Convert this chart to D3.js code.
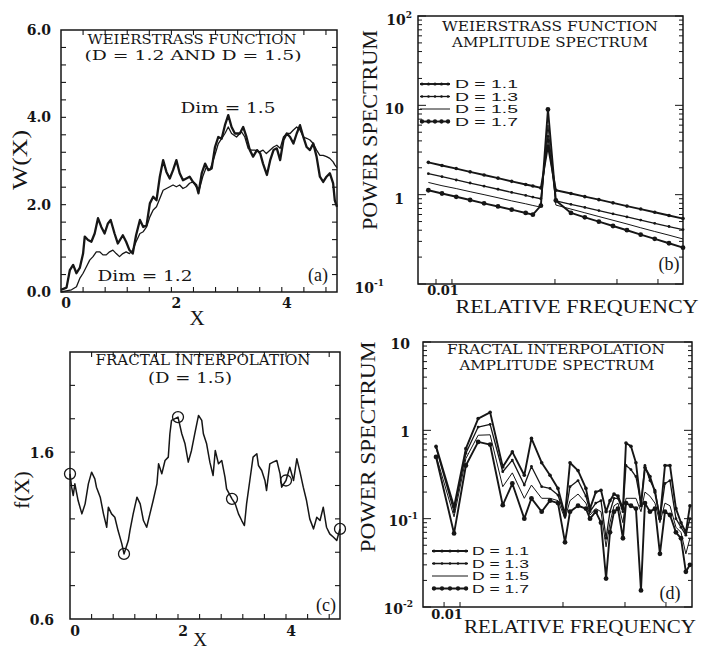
<!DOCTYPE html>
<html>
<head>
<meta charset="utf-8">
<script src="https://cdn.jsdelivr.net/npm/d3@7"></script>
<style>
  body { margin: 0; background: #fff; }
  text { fill: #161616; }
</style>
</head>
<body>
<div id="chart"></div>
<script>
// ---- (a) Weierstrass function, two dimensions
const wX15 = [0, 0.10, 0.16, 0.22, 0.28, 0.34, 0.40, 0.43, 0.49, 0.55, 0.61, 0.67, 0.73, 0.79, 0.85, 0.90, 0.97, 1.03, 1.12, 1.18,
  1.24, 1.30, 1.36, 1.43, 1.49, 1.55, 1.61, 1.67, 1.73, 1.79, 1.85, 1.91, 1.97, 2.03, 2.09, 2.15, 2.21, 2.27, 2.33, 2.39,
  2.45, 2.49, 2.55, 2.61, 2.67, 2.73, 2.79, 2.85, 2.91, 2.97, 3.03, 3.09, 3.15, 3.24, 3.30, 3.36, 3.42, 3.48, 3.55, 3.61,
  3.66, 3.73, 3.79, 3.85, 3.91, 3.97, 4.03, 4.09, 4.15, 4.21, 4.27, 4.33, 4.39, 4.45, 4.51, 4.57, 4.63, 4.69, 4.75, 4.81,
  4.87, 4.93, 4.96, 5.0];
const wY15 = [0.05, 0.10, 0.50, 0.62, 0.43, 0.55, 0.88, 1.27, 1.19, 1.15, 1.34, 1.69, 1.49, 1.34, 1.57, 1.65, 1.34, 1.11, 1.30, 1.15,
  0.96, 0.88, 1.30, 1.65, 1.49, 1.53, 2.03, 2.18, 2.10, 2.64, 3.02, 2.75, 2.60, 2.79, 3.02, 2.72, 2.56, 2.60, 2.64, 2.52,
  2.45, 2.26, 2.72, 2.94, 2.79, 2.83, 3.32, 3.55, 3.51, 3.82, 4.05, 3.78, 3.63, 3.63, 3.78, 3.55, 3.25, 3.10, 3.25, 3.17,
  2.94, 2.68, 3.02, 3.25, 3.29, 3.02, 3.48, 3.63, 3.55, 3.40, 3.63, 3.82, 3.55, 3.32, 3.25, 3.40, 3.10, 2.64, 2.52, 2.64,
  2.72, 2.49, 2.10, 1.95];
const wX12 = [0, 0.19, 0.28, 0.34, 0.40, 0.46, 0.52, 0.58, 0.64, 0.70, 0.76, 0.82, 0.88, 0.94, 1.00, 1.06, 1.12, 1.18, 1.24, 1.30,
  1.36, 1.43, 1.49, 1.55, 1.61, 1.67, 1.73, 1.79, 1.85, 1.91, 1.97, 2.03, 2.09, 2.15, 2.21, 2.27, 2.33, 2.39, 2.45, 2.51,
  2.57, 2.63, 2.70, 2.78, 2.85, 2.97, 3.03, 3.09, 3.18, 3.27, 3.33, 3.39, 3.45, 3.51, 3.60, 3.66, 3.72, 3.79, 3.85, 3.91,
  3.97, 4.03, 4.09, 4.15, 4.21, 4.27, 4.33, 4.39, 4.45, 4.51, 4.57, 4.63, 4.69, 4.75, 4.81, 4.87, 4.93, 4.96, 5.0];
const wY12 = [0.0, 0.05, 0.12, 0.31, 0.43, 0.58, 0.73, 0.81, 0.92, 0.92, 0.85, 0.85, 0.92, 0.96, 0.88, 0.81, 0.88, 0.92, 0.88, 0.96,
  1.15, 1.34, 1.38, 1.49, 1.72, 1.88, 1.95, 2.14, 2.33, 2.37, 2.41, 2.45, 2.41, 2.45, 2.37, 2.41, 2.49, 2.52, 2.41, 2.37,
  2.65, 2.85, 2.80, 3.10, 3.40, 3.63, 3.78, 3.63, 3.55, 3.67, 3.55, 3.29, 3.25, 3.25, 3.21, 3.25, 3.17, 3.25, 3.32, 3.36,
  3.29, 3.55, 3.63, 3.63, 3.71, 3.78, 3.71, 3.55, 3.52, 3.48, 3.40, 3.25, 3.13, 3.13, 3.10, 3.06, 2.98, 2.91, 2.85];

// ---- (b) Weierstrass amplitude spectrum
const specFreq = [0.0059, 0.008, 0.011, 0.015, 0.0205, 0.028, 0.038, 0.052, 0.061, 0.073, 0.0855,
  0.102, 0.143, 0.195, 0.267, 0.366, 0.50, 0.68, 0.93, 1.28, 1.75];
const specD11 = [2.30, 2.12, 1.96, 1.80, 1.66, 1.53, 1.41, 1.30, 1.25, 1.19, 3.5, 1.12, 1.03, 0.95, 0.88, 0.81, 0.745, 0.69, 0.635, 0.585, 0.54];
const specD13 = [1.72, 1.59, 1.46, 1.35, 1.245, 1.15, 1.06, 0.98, 0.94, 0.90, 4.5, 0.85, 0.78, 0.72, 0.664, 0.61, 0.564, 0.52, 0.478, 0.44, 0.407];
const specD15 = [1.37, 1.26, 1.17, 1.08, 1.0, 0.923, 0.852, 0.79, 0.757, 0.725, 6.0, 0.765, 0.69, 0.627, 0.569, 0.517, 0.47, 0.426, 0.387, 0.352, 0.319];
const specD17 = [1.12, 1.03, 0.947, 0.872, 0.80, 0.738, 0.68, 0.624, 0.597, 0.753, 9.0, 0.86, 0.624, 0.557, 0.499, 0.446, 0.40, 0.357, 0.32, 0.286, 0.255];

// ---- (c) fractal interpolation
const fiX = [0.00, 0.03, 0.06, 0.09, 0.15, 0.22, 0.28, 0.34, 0.40, 0.46, 0.49, 0.56, 0.62, 0.68, 0.71, 0.77, 0.83, 0.89, 0.96, 1.00,
  1.08, 1.11, 1.17, 1.24, 1.30, 1.36, 1.42, 1.48, 1.54, 1.61, 1.64, 1.70, 1.76, 1.82, 1.85, 1.88, 2.00, 2.07, 2.13, 2.19,
  2.25, 2.31, 2.38, 2.44, 2.47, 2.53, 2.59, 2.65, 2.69, 2.75, 2.81, 2.87, 2.90, 3.00, 3.06, 3.12, 3.18, 3.23, 3.27, 3.33,
  3.39, 3.46, 3.49, 3.55, 3.61, 3.64, 3.70, 3.76, 3.83, 3.89, 3.92, 4.00, 4.07, 4.14, 4.20, 4.26, 4.32, 4.38, 4.44, 4.51,
  4.57, 4.63, 4.69, 4.75, 4.81, 4.88, 4.94, 5.00];
const fiY = [1.47, 1.39, 1.34, 1.41, 1.31, 1.23, 1.29, 1.41, 1.48, 1.44, 1.39, 1.33, 1.23, 1.15, 1.27, 1.23, 1.21, 1.13, 1.05, 0.99,
  1.07, 1.13, 1.23, 1.33, 1.29, 1.19, 1.15, 1.23, 1.31, 1.41, 1.53, 1.47, 1.55, 1.57, 1.71, 1.79, 1.81, 1.71, 1.65, 1.54,
  1.61, 1.71, 1.82, 1.79, 1.71, 1.65, 1.54, 1.46, 1.61, 1.53, 1.55, 1.45, 1.38, 1.32, 1.29, 1.23, 1.19, 1.16, 1.29, 1.43,
  1.57, 1.59, 1.52, 1.49, 1.43, 1.37, 1.53, 1.54, 1.55, 1.47, 1.39, 1.43, 1.51, 1.43, 1.56, 1.48, 1.39, 1.31, 1.20, 1.14,
  1.21, 1.19, 1.27, 1.15, 1.11, 1.09, 1.07, 1.14];
const fiNodeX = [0, 1, 2, 3, 4, 5];
const fiNodeY = [1.47, 0.99, 1.81, 1.32, 1.43, 1.14];

// ---- (d) fractal interpolation amplitude spectrum
const fiFreq = [0.00585, 0.00875, 0.0114, 0.015, 0.0196, 0.026, 0.0322, 0.0421, 0.0494, 0.0621, 0.0748, 0.0894, 0.1046,
  0.117, 0.140, 0.167, 0.183, 0.208, 0.234, 0.262, 0.286, 0.313, 0.342, 0.382, 0.409, 0.457, 0.511, 0.572, 0.625,
  0.699, 0.782, 0.874, 0.978, 1.094, 1.25, 1.40, 1.56, 1.71];
const fiD11 = [0.66, 0.136, 0.62, 1.36, 1.6, 0.385, 0.57, 0.31, 0.81, 0.43, 0.31, 0.22, 0.11, 0.43, 0.35, 0.22, 0.13, 0.20, 0.21,
  0.12, 0.16, 0.19, 0.18, 0.13, 0.72, 0.66, 0.43, 0.14, 0.38, 0.30, 0.20, 0.10, 0.40, 0.40, 0.13, 0.09, 0.07, 0.14];
const fiD13 = [0.64, 0.12, 0.55, 1.09, 1.17, 0.34, 0.46, 0.24, 0.39, 0.23, 0.22, 0.185, 0.105, 0.23, 0.27, 0.18, 0.12, 0.15, 0.16,
  0.06, 0.12, 0.17, 0.17, 0.12, 0.40, 0.36, 0.30, 0.15, 0.40, 0.27, 0.21, 0.10, 0.25, 0.27, 0.10, 0.08, 0.065, 0.10];
const fiD15 = [0.52, 0.105, 0.48, 0.88, 0.89, 0.23, 0.33, 0.17, 0.24, 0.17, 0.17, 0.16, 0.10, 0.16, 0.19, 0.15, 0.11, 0.13, 0.12,
  0.048, 0.09, 0.14, 0.15, 0.09, 0.17, 0.17, 0.17, 0.12, 0.20, 0.18, 0.15, 0.09, 0.15, 0.14, 0.08, 0.07, 0.04, 0.06];
const fiD17 = [0.50, 0.068, 0.40, 0.74, 0.69, 0.142, 0.25, 0.10, 0.17, 0.12, 0.16, 0.15, 0.054, 0.12, 0.14, 0.13, 0.10, 0.12, 0.09,
  0.021, 0.07, 0.12, 0.13, 0.06, 0.15, 0.14, 0.13, 0.0154, 0.15, 0.12, 0.13, 0.04, 0.12, 0.11, 0.07, 0.06, 0.025, 0.03];

// ---- ticks and labels
const aYLabels = [0, 2, 4, 6];
const xLabels = [0, 2, 4];
const cYLabels = [0.6, 1.6];
const freqTicks = [0.007, 0.01, 0.1, 0.4, 1];
const bYTicks = [0.1, 1, 10, 100];
const bYLabels = [["10", "-1"], ["1", ""], ["10", ""], ["10", "2"]];
const dYTicks = [0.01, 0.1, 1, 10];
const dYLabels = [["10", "-2"], ["10", "-1"], ["1", ""], ["10", ""]];
const legendNames = ["D = 1.1", "D = 1.3", "D = 1.5", "D = 1.7"];

const ink = "#161616";
const serif = "'Liberation Serif', 'DejaVu Serif', serif";
const dserif = "'DejaVu Serif', serif";
const sans = "'Liberation Sans', Arial, sans-serif";

const svg = d3.select("#chart").append("svg")
    .attr("width", 703)
    .attr("height", 652);

//Scales for the four panels
const xA = d3.scaleLinear().domain([0, 5]).range([61, 337]);
const yA = d3.scaleLinear().domain([0, 6]).range([292, 30]);
const xB = d3.scaleLog().domain([0.00468, 1.75]).range([418, 683]);
const yB = d3.scaleLog().domain([0.1, 100]).range([284, 16]);
const xC = d3.scaleLinear().domain([0, 5]).range([70, 340]);
const yC = d3.scaleLinear().domain([0.6, 2.2]).range([619, 352]);
const xD = d3.scaleLog().domain([0.00437, 1.79]).range([423, 692]);
const yD = d3.scaleLog().domain([0.01, 10]).range([607, 342]);

function frame(x, y) {
    const [x0, x1] = x.range();
    const [y0, y1] = y.range();
    svg.append("rect")
        .attr("x", x0).attr("y", y1)
        .attr("width", x1 - x0).attr("height", y0 - y1)
        .attr("fill", "none").attr("stroke", ink).attr("stroke-width", 1.5);
}

function tick(g, x1, y1, x2, y2) {
    g.append("line").attr("x1", x1).attr("y1", y1).attr("x2", x2).attr("y2", y2);
}

//Inward ticks on all four sides for the linear panels
function linearTicks(x, y, xs, ys) {
    const [xl, xr] = x.range();
    const [yb, yt] = y.range();
    const g = svg.append("g").attr("stroke", ink).attr("stroke-width", 1.1);
    xs.forEach(v => {
        tick(g, x(v), yb, x(v), yb - 5);
        tick(g, x(v), yt, x(v), yt + 5);
    });
    ys.forEach(v => {
        tick(g, xl, y(v), xl + 5, y(v));
        tick(g, xr, y(v), xr - 5, y(v));
    });
}

//Log ticks: decades long, minor short, left and right; frequency ticks at the bottom
function logTicks(x, y) {
    const [xl, xr] = x.range();
    const [yb] = y.range();
    const g = svg.append("g").attr("stroke", ink).attr("stroke-width", 1);
    y.ticks().forEach(v => {
        const e = Math.log10(v);
        const len = Math.abs(e - Math.round(e)) < 1e-6 ? 8 : 4;
        tick(g, xl, y(v), xl + len, y(v));
        tick(g, xr, y(v), xr - len, y(v));
    });
    freqTicks.forEach(v => tick(g, x(v), yb, x(v), yb - 5));
}

function text(str, x, y, size, opts = {}) {
    const t = svg.append("text")
        .attr("x", x).attr("y", y)
        .attr("font-family", opts.family || dserif)
        .attr("font-size", size)
        .attr("text-anchor", opts.anchor || "middle")
        .text(str);
    if (opts.weight) t.attr("font-weight", opts.weight);
    if (opts.len) t.attr("textLength", opts.len).attr("lengthAdjust", "spacingAndGlyphs");
    if (opts.rotate) t.attr("transform", `rotate(-90, ${x}, ${y})`);
    return t;
}

function powerLabel(pair, x, y) {
    const t = svg.append("text")
        .attr("x", pair[1] ? x + 8 : x).attr("y", y)
        .attr("font-family", dserif).attr("font-weight", "bold")
        .attr("font-size", 14).attr("text-anchor", "end");
    t.append("tspan").text(pair[0]);
    if (pair[1]) t.append("tspan").attr("dy", -7).attr("font-size", 9).text(pair[1]);
}

//Line styles for D = 1.1, 1.3, 1.5, 1.7
const styles = [
    { w: 1.9, r: 1.8 },
    { w: 1.3, r: 1.4 },
    { w: 1.0, r: 0 },
    { w: 1.9, r: 2.4 }
];

function spectrum(x, y, freq, series) {
    series.forEach((vals, i) => {
        const pts = d3.zip(freq, vals);
        const line = d3.line().x(d => x(d[0])).y(d => y(d[1]));
        svg.append("path").datum(pts)
            .attr("d", line)
            .attr("fill", "none").attr("stroke", ink)
            .attr("stroke-width", styles[i].w).attr("stroke-linejoin", "round");
        if (styles[i].r > 0) {
            svg.append("g").selectAll("circle").data(pts).enter().append("circle")
                .attr("cx", d => x(d[0])).attr("cy", d => y(d[1]))
                .attr("r", styles[i].r).attr("fill", ink);
        }
    });
}

function legend(x0, x1, ys, tx, tlen) {
    legendNames.forEach((name, i) => {
        const g = svg.append("g");
        g.append("line").attr("x1", x0).attr("x2", x1).attr("y1", ys[i]).attr("y2", ys[i])
            .attr("stroke", ink).attr("stroke-width", styles[i].w);
        if (styles[i].r > 0) {
            d3.range(5).forEach(k => {
                g.append("circle").attr("cx", x0 + 2 + k * (x1 - x0 - 4) / 4).attr("cy", ys[i])
                    .attr("r", styles[i].r * 0.9).attr("fill", ink);
            });
        }
        text(name, tx, ys[i] + 4, 11, { family: sans, anchor: "start", len: tlen });
    });
}

// ================= Panel (a)
frame(xA, yA);
linearTicks(xA, yA, d3.range(0.4, 4.9, 0.4), d3.range(0.4, 5.9, 0.4));
aYLabels.forEach(v => text(v.toFixed(1), 51, yA(v) + 5, 14, { anchor: "end", weight: "bold" }));
xLabels.forEach(v => text(String(v), xA(v) + 5, 308, 14, { weight: "bold" }));

const lineA = d3.line().x(d => xA(d[0])).y(d => yA(d[1]));
svg.append("path").datum(d3.zip(wX12, wY12)).attr("d", lineA)
    .attr("fill", "none").attr("stroke", ink).attr("stroke-width", 1.3).attr("stroke-linejoin", "round");
svg.append("path").datum(d3.zip(wX15, wY15)).attr("d", lineA)
    .attr("fill", "none").attr("stroke", ink).attr("stroke-width", 2.3).attr("stroke-linejoin", "round");

text("WEIERSTRASS FUNCTION", 192, 44, 13.5, { len: 209 });
text("(D = 1.2 AND D = 1.5)", 193, 60, 13.5, { len: 217 });
text("Dim = 1.5", 228, 113, 15, { len: 95 });
text("Dim = 1.2", 145, 281, 15, { len: 95 });
text("(a)", 318, 281, 18, { family: serif });
text("W(X)", 27, 160, 22, { family: serif, rotate: true, len: 60 });
text("X", 197, 325, 21, { family: serif });

// ================= Panel (b)
frame(xB, yB);
logTicks(xB, yB);
bYTicks.forEach((v, i) => powerLabel(bYLabels[i], v < 1 ? 376 : 404, yB(v) + 9));
text("0.01", 443, 295, 13, { weight: "bold" });
spectrum(xB, yB, specFreq, [specD11, specD13, specD15, specD17]);
legend(420, 450, [84, 96.5, 109, 121.5], 455, 63);
text("WEIERSTRASS FUNCTION", 550, 31, 13.5, { len: 216 });
text("AMPLITUDE SPECTRUM", 550, 47, 13.5, { len: 196 });
text("(b)", 669, 270, 18, { family: serif });
text("POWER SPECTRUM", 377, 130, 22, { family: serif, rotate: true, len: 200 });
text("RELATIVE FREQUENCY", 577, 313, 19, { family: serif, len: 243 });

// ================= Panel (c)
frame(xC, yC);
linearTicks(xC, yC, d3.range(0.4, 4.9, 0.4), d3.range(0.8, 2.1, 0.2));
cYLabels.forEach(v => text(v.toFixed(1), 54, yC(v) + 6, 14, { anchor: "end", weight: "bold" }));
xLabels.forEach(v => text(String(v), xC(v) + 5, 636, 14, { weight: "bold" }));

const lineC = d3.line().x(d => xC(d[0])).y(d => yC(d[1]));
svg.append("path").datum(d3.zip(fiX, fiY)).attr("d", lineC)
    .attr("fill", "none").attr("stroke", ink).attr("stroke-width", 1.5).attr("stroke-linejoin", "round");
svg.append("g").selectAll("circle").data(d3.zip(fiNodeX, fiNodeY)).enter().append("circle")
    .attr("cx", d => xC(d[0])).attr("cy", d => yC(d[1])).attr("r", 5.5)
    .attr("fill", "none").attr("stroke", ink).attr("stroke-width", 1.3);

text("FRACTAL INTERPOLATION", 203, 365, 15, { len: 215 });
text("(D = 1.5)", 190, 383, 15, { len: 84 });
text("(c)", 326, 611, 18, { family: serif });
text("f(X)", 29, 490, 22, { family: serif, rotate: true });
text("X", 200, 646, 19, { family: serif });

// ================= Panel (d)
frame(xD, yD);
logTicks(xD, yD);
dYTicks.forEach((v, i) => powerLabel(dYLabels[i], v === 0.01 ? 405 : 410, yD(v) + 7));
text("0.01", 447, 619, 13, { weight: "bold" });
spectrum(xD, yD, fiFreq, [fiD11, fiD13, fiD15, fiD17]);
legend(432, 468, [551, 563.5, 576, 588.5], 472, 57);
text("FRACTAL INTERPOLATION", 556, 354, 13.5, { len: 218 });
text("AMPLITUDE SPECTRUM", 557, 370, 13.5, { len: 195 });
text("(d)", 670, 599, 18, { family: serif });
text("POWER SPECTRUM", 375, 447, 22, { family: serif, rotate: true, len: 211 });
text("RELATIVE FREQUENCY", 580, 633, 19, { family: serif, len: 232 });
</script>
</body>
</html>
